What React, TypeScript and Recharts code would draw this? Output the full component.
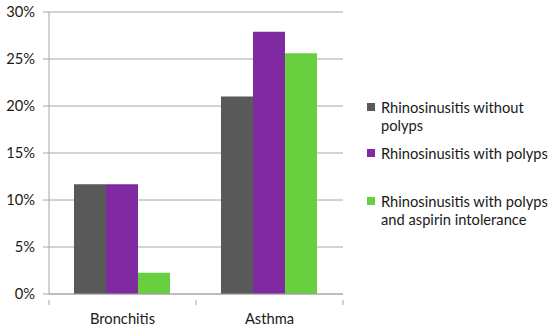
import { BarChart, Bar, XAxis, YAxis, CartesianGrid, Legend } from 'recharts';

const categories = ['Bronchitis', 'Asthma'];
const withoutPolyps = [11.67, 21.0];
const withPolyps = [11.67, 27.9];
const withPolypsAspirin = [2.27, 25.6];
const yTicks = [0, 5, 10, 15, 20, 25, 30];

const seriesNames = [
  'Rhinosinusitis without polyps',
  'Rhinosinusitis with polyps',
  'Rhinosinusitis with polyps and aspirin intolerance',
];
const seriesColors = ['#595959', '#7F2AA1', '#68CF3F'];

const data = categories.map((name, i) => ({
  name,
  a: withoutPolyps[i],
  b: withPolyps[i],
  c: withPolypsAspirin[i],
}));

const font = 'Lato, "Liberation Sans", sans-serif';
const halfBand = 294 / categories.length / 2;

function LegendBox({ payload }: any) {
  const gaps = [0, 10, 30];
  const items = [...(payload || [])].sort(
    (p: any, q: any) => seriesNames.indexOf(p.value) - seriesNames.indexOf(q.value)
  );
  return (
    <div style={{ fontFamily: font, fontSize: 14.7, color: '#1a1a1a', lineHeight: '18px' }}>
      {items.map((p: any, i: number) => (
        <div key={p.value} style={{ display: 'flex', marginTop: gaps[i] }}>
          <span
            style={{
              width: 8,
              height: 8,
              background: p.color,
              marginTop: 5,
              marginRight: 6,
              flexShrink: 0,
            }}
          />
          <span>{p.value}</span>
        </div>
      ))}
    </div>
  );
}

function CategoryTick({ x, y, payload, index }: any) {
  const last = index === categories.length - 1;
  return (
    <g>
      <line x1={x - halfBand} y1={y - 10} x2={x - halfBand} y2={y - 5} stroke="#A6A6A6" />
      {last && <line x1={x + halfBand} y1={y - 10} x2={x + halfBand} y2={y - 5} stroke="#A6A6A6" />}
      <text x={x} y={y + 14} textAnchor="middle" fill="#1a1a1a" fontSize={14.7} fontFamily={font}>
        {payload.value}
      </text>
    </g>
  );
}

export default function App() {
  return (
    <div style={{ position: 'absolute', left: 0, top: 0, width: 550, height: 327, background: '#fff' }}>
      <BarChart
        width={550}
        height={327}
        data={data}
        margin={{ top: 12, right: 207, bottom: 3, left: 0 }}
        barCategoryGap="17%"
        barGap={0}
      >
        <CartesianGrid vertical={false} stroke="#A6A6A6" />
        <XAxis
          dataKey="name"
          stroke="#A6A6A6"
          tickLine={false}
          height={30}
          interval={0}
          tick={<CategoryTick />}
          tickMargin={10}
        />
        <YAxis
          domain={[0, 30]}
          ticks={yTicks}
          width={49}
          stroke="#A6A6A6"
          tickSize={6}
          tickMargin={8}
          tickFormatter={(v: number) => `${v}%`}
          tick={{ fill: '#1a1a1a', fontSize: 14.7, fontFamily: font }}
          interval={0}
        />
        <Legend
          layout="horizontal"
          align="center"
          verticalAlign="middle"
          content={<LegendBox />}
          wrapperStyle={{ left: 367, top: 98, width: 183 }}
        />
        <Bar dataKey="a" name={seriesNames[0]} fill={seriesColors[0]} isAnimationActive={false} />
        <Bar dataKey="b" name={seriesNames[1]} fill={seriesColors[1]} isAnimationActive={false} />
        <Bar dataKey="c" name={seriesNames[2]} fill={seriesColors[2]} isAnimationActive={false} />
      </BarChart>
    </div>
  );
}
